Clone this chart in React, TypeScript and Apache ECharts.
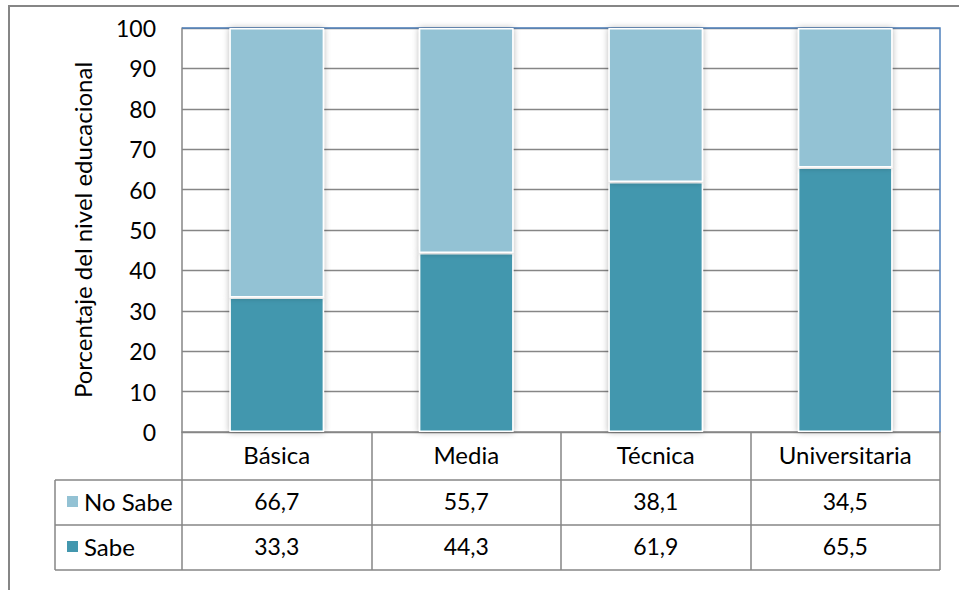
import React, { useEffect, useRef } from "react";
import * as echarts from "echarts";

const categories = ["Básica", "Media", "Técnica", "Universitaria"];
const noSabe = [66.7, 55.7, 38.1, 34.5];
const sabe = [33.3, 44.3, 61.9, 65.5];
const seriesNames = ["No Sabe", "Sabe"];
const yAxisTitle = "Porcentaje del nivel educacional";

const FONT = "Lato, 'Open Sans', sans-serif";
const GRID = { left: 182, right: 19, top: 28, bottom: 158 };
const W = 959;
const H = 590;
const ROW_H = 45;
const HEADER_H = 48;
const TABLE_LEFT = 55;

const fmt = (v: number) => v.toFixed(1).replace(".", ",");

export default function App() {
  const ref = useRef<HTMLDivElement>(null);

  useEffect(() => {
    if (!ref.current) return;
    const chart = echarts.init(ref.current, null, { renderer: "svg" });
    const axisY = H - GRID.bottom;
    const plotRight = W - GRID.right;
    const rowLines = [axisY + HEADER_H, axisY + HEADER_H + ROW_H, axisY + HEADER_H + 2 * ROW_H];
    const gray = "#868686";

    chart.setOption({
      animation: false,
      textStyle: { fontFamily: FONT },
      grid: { ...GRID },
      legend: {
        data: seriesNames,
        orient: "vertical",
        left: 65,
        top: axisY + HEADER_H + ROW_H / 2 - 14,
        padding: 0,
        itemGap: ROW_H - 26,
        itemWidth: 13,
        itemHeight: 13,
        icon: "rect",
        selectedMode: false,
        textStyle: { fontSize: 24, color: "#000", fontFamily: FONT, lineHeight: 26 },
      },
      xAxis: {
        type: "category",
        data: categories,
        axisLine: { show: true, lineStyle: { color: gray, width: 1.5 } },
        axisTick: {
          show: true,
          inside: false,
          length: HEADER_H + 2 * ROW_H,
          lineStyle: { color: gray, width: 1.5 },
        },
        axisLabel: {
          interval: 0,
          margin: -2,
          formatter: (_v: string, i: number) =>
            `{c|${categories[i]}}\n{v|${fmt(noSabe[i])}}\n{v|${fmt(sabe[i])}}`,
          rich: {
            c: { fontSize: 24, color: "#000", fontFamily: FONT, lineHeight: HEADER_H },
            v: { fontSize: 23, color: "#000", fontFamily: FONT, lineHeight: ROW_H },
          },
        },
      },
      yAxis: {
        type: "value",
        min: 0,
        max: 100,
        interval: 10,
        name: yAxisTitle,
        nameLocation: "middle",
        nameGap: 88,
        nameRotate: 90,
        nameTextStyle: { fontSize: 24, color: "#000", fontFamily: FONT },
        axisLine: { show: true, lineStyle: { color: gray, width: 1.5 } },
        axisTick: { show: false },
        axisLabel: { fontSize: 23, color: "#000", margin: 26, fontFamily: FONT },
        splitLine: { show: true, lineStyle: { color: gray, width: 1.3 } },
      },
      series: [
        {
          name: "Sabe",
          type: "bar",
          stack: "total",
          data: sabe,
          barWidth: "50%",
          itemStyle: {
            color: "#4397AE",
            borderColor: "#fff",
            borderWidth: 1.5,
            shadowBlur: 6,
            shadowColor: "rgba(0,0,0,0.3)",
          },
        },
        {
          name: "No Sabe",
          type: "bar",
          stack: "total",
          data: noSabe,
          barWidth: "50%",
          itemStyle: {
            color: "#93C2D4",
            borderColor: "#fff",
            borderWidth: 1.5,
            shadowBlur: 6,
            shadowColor: "rgba(0,0,0,0.3)",
          },
        },
      ],
      graphic: [
        // outer chart frame
        {
          type: "polyline",
          shape: { points: [[9, H + 5], [9, 6], [W + 5, 6]] },
          style: { stroke: gray, lineWidth: 2, fill: "none" },
          silent: true,
        },
        // plot-area border along the top and right edges, beneath the bars
        {
          type: "polyline",
          z: 1,
          shape: { points: [[GRID.left, GRID.top], [plotRight, GRID.top], [plotRight, axisY]] },
          style: { stroke: "#4F81BD", lineWidth: 1.5, fill: "none" },
          silent: true,
        },
        // data table rows
        ...rowLines.map((y) => ({
          type: "line",
          shape: { x1: TABLE_LEFT, y1: y, x2: plotRight, y2: y },
          style: { stroke: gray, lineWidth: 1.5 },
          silent: true,
        })),
        {
          type: "line",
          shape: { x1: TABLE_LEFT, y1: rowLines[0], x2: TABLE_LEFT, y2: rowLines[2] },
          style: { stroke: gray, lineWidth: 1.5 },
          silent: true,
        },
      ],
    });

    return () => chart.dispose();
  }, []);

  return (
    <div
      ref={ref}
      style={{ position: "fixed", left: 0, top: 0, width: W, height: H, background: "#fff" }}
    />
  );
}
